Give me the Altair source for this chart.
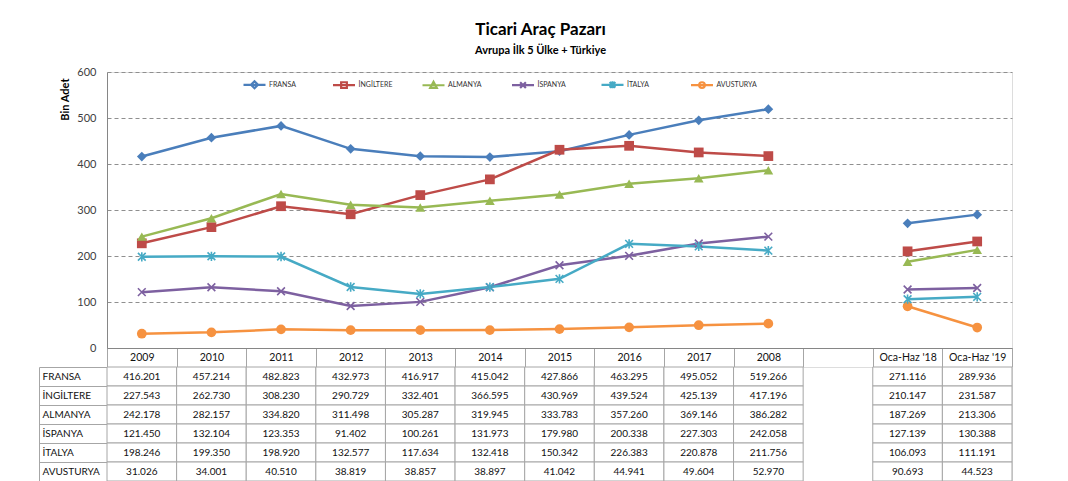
import altair as alt
import pandas as pd

# ---------------- data ----------------
categories = ["2009", "2010", "2011", "2012", "2013", "2014", "2015", "2016",
              "2017", "2008", " ", "Oca-Haz '18", "Oca-Haz '19"]
series = ["FRANSA", "İNGİLTERE", "ALMANYA", "İSPANYA", "İTALYA", "AVUSTURYA"]

fransa = [416.201, 457.214, 482.823, 432.973, 416.917, 415.042, 427.866, 463.295, 495.052, 519.266, None, 271.116, 289.936]
ingiltere = [227.543, 262.730, 308.230, 290.729, 332.401, 366.595, 430.969, 439.524, 425.139, 417.196, None, 210.147, 231.587]
almanya = [242.178, 282.157, 334.820, 311.498, 305.287, 319.945, 333.783, 357.260, 369.146, 386.282, None, 187.269, 213.306]
ispanya = [121.450, 132.104, 123.353, 91.402, 100.261, 131.973, 179.980, 200.338, 227.303, 242.058, None, 127.139, 130.388]
italya = [198.246, 199.350, 198.920, 132.577, 117.634, 132.418, 150.342, 226.383, 220.878, 211.756, None, 106.093, 111.191]
avusturya = [31.026, 34.001, 40.510, 38.819, 38.857, 38.897, 41.042, 44.941, 49.604, 52.970, None, 90.693, 44.523]

y_ticks = [0, 100, 200, 300, 400, 500, 600]

title_text = "Ticari Araç Pazarı"
subtitle_text = "Avrupa İlk 5 Ülke + Türkiye"
y_title = "Bin Adet"

# ---------------- styles ----------------
colors = ["#4A7EBB", "#BE4B48", "#98B954", "#7D60A0", "#46AAC5", "#F69240"]
FONT = "Lato"
GRID = "#a6a6a6"
AXIS = "#868686"

X_PATH = "M-1,-1L1,1M-1,1L1,-1"
AST_PATH = "M-1,-1L1,1M-1,1L1,-1M0,-1.2L0,1.2"
point_shapes = ["diamond", "square", "triangle-up", X_PATH, AST_PATH, "circle"]
legend_paths = [
    "M-1,0H1M0,-0.32L0.32,0L0,0.32L-0.32,0Z",
    "M-1,0H1M-0.26,-0.26H0.26V0.26H-0.26Z",
    "M-1,0H1M0,-0.32L0.3,0.24H-0.3Z",
    "M-1,0H1M-0.26,-0.26L0.26,0.26M-0.26,0.26L0.26,-0.26",
    "M-1,0H1M-0.26,-0.26L0.26,0.26M-0.26,0.26L0.26,-0.26M0,-0.32V0.32",
    "M-1,0H1M-0.26,0A0.26,0.26,0,1,1,0.26,0A0.26,0.26,0,1,1,-0.26,0Z",
]

# ---------------- long table ----------------
values = [fransa, ingiltere, almanya, ispanya, italya, avusturya]
rows = []
for s, vals in zip(series, values):
    for i, (c, v) in enumerate(zip(categories, vals)):
        if v is None:
            continue
        rows.append({"series": s, "cat": c, "value": v, "idx": i,
                     "segment": "a" if i < 10 else "b",
                     "label": f"{v:.3f}"})
df = pd.DataFrame(rows)

color_scale = alt.Scale(domain=series, range=colors)
x_scale = alt.Scale(type="band", domain=categories, paddingInner=0, paddingOuter=0)

X = alt.X("cat:N", scale=x_scale, sort=categories, bandPosition=0.5,
          axis=alt.Axis(title=None, labelAngle=0, tickBand="extent", tickSize=19,
                        tickColor=GRID, domainColor=AXIS, labelPadding=-9.5,
                        labelBaseline="middle", labelFontSize=10.5, labelFont=FONT,
                        labelColor="#111111", grid=False))
Y = alt.Y("value:Q", scale=alt.Scale(domain=[0, 600], nice=False, zero=True),
          axis=alt.Axis(title=y_title, values=y_ticks, grid=True, gridDash=[4, 3],
                        gridColor="#8f8f8f", ticks=False, labelPadding=11,
                        domainColor=AXIS, labelFont=FONT, labelFontSize=11,
                        labelColor="#404040", titleFont=FONT, titleFontSize=11,
                        titleFontWeight="bold", titleColor="#000000",
                        titleAngle=270, titleAlign="right", titleBaseline="bottom",
                        titleY=6, titlePadding=6))

base = alt.Chart(df)

lines = base.mark_line(strokeWidth=2.5).encode(
    x=X, y=Y,
    color=alt.Color("series:N", scale=color_scale, legend=None),
    detail="segment:N",
    order="idx:Q",
)

filled_pts = base.transform_filter(
    alt.FieldOneOfPredicate(field="series", oneOf=["FRANSA", "İNGİLTERE", "ALMANYA", "AVUSTURYA"])
).mark_point(filled=True, opacity=1, size=95).encode(
    x=X, y=Y,
    color=alt.Color("series:N", scale=color_scale, legend=None),
    shape=alt.Shape("series:N", scale=alt.Scale(domain=series, range=point_shapes), legend=None),
)

stroked_pts = base.transform_filter(
    alt.FieldOneOfPredicate(field="series", oneOf=["İSPANYA", "İTALYA"])
).mark_point(filled=False, opacity=1, size=60, strokeWidth=1.6).encode(
    x=X, y=Y,
    color=alt.Color("series:N", scale=color_scale, legend=None),
    shape=alt.Shape("series:N", scale=alt.Scale(domain=series, range=point_shapes), legend=None),
)

leg = alt.Legend(orient="none", legendX=135, legendY=0, direction="horizontal",
                 columns=6, gridAlign="all", columnPadding=18.5, symbolSize=484,
                 symbolStrokeWidth=2.2, labelFont=FONT, labelFontSize=7,
                 labelColor="#333333", labelOffset=2, title=None)

legend_layer = base.transform_filter("false").mark_point(filled=False, opacity=1).encode(
    x=X, y=Y,
    color=alt.Color("series:N", scale=color_scale, legend=leg),
    shape=alt.Shape("series:N", scale=alt.Scale(domain=series, range=legend_paths), legend=leg),
)

top = alt.layer(lines, filled_pts, stroked_pts, legend_layer).resolve_scale(
    color="independent", shape="independent"
).properties(width=905, height=276)

# ---------------- table ----------------
x_scale2 = alt.Scale(type="band", domain=categories, paddingInner=0, paddingOuter=0)
y_band = alt.Scale(type="band", domain=series, paddingInner=0, paddingOuter=0)

cells = alt.Chart(df).mark_rect(fill="white", stroke=GRID, strokeWidth=1).encode(
    x=alt.X("cat:N", scale=x_scale2, sort=categories, axis=None),
    y=alt.Y("series:N", scale=y_band, sort=series,
            axis=alt.Axis(orient="left", offset=68, labels=False, ticks=False,
                          domain=True, domainColor=GRID, title=None, grid=False)),
)
texts = alt.Chart(df).mark_text(font=FONT, fontSize=10, color="#111111").encode(
    x=alt.X("cat:N", scale=x_scale2, sort=categories, axis=None),
    y=alt.Y("series:N", scale=y_band, sort=series,
            axis=alt.Axis(orient="left", title=None, tickBand="extent", tickSize=68,
                          tickColor=GRID, domain=False, labelAlign="left",
                          labelPadding=-3, labelFontSize=10, labelFont=FONT,
                          labelColor="#111111", grid=False)),
    text="label:N",
)
table = alt.layer(cells, texts).resolve_axis(y="independent").properties(width=905, height=114)

chart = alt.vconcat(top, table, spacing=19, bounds="flush").properties(
    title=alt.TitleParams(text=title_text, subtitle=subtitle_text, anchor="middle",
                          font=FONT, fontSize=17, fontWeight="bold", color="#000000",
                          subtitleFont=FONT, subtitleFontSize=11,
                          subtitleFontWeight="bold", subtitleColor="#000000",
                          subtitlePadding=6, offset=9, dx=15),
    padding={"left": 30, "top": 12, "right": 5, "bottom": 0},
).configure_view(strokeWidth=0).configure(background="white")

chart.save("out.html", embed_options={"renderer": "svg", "actions": False})
